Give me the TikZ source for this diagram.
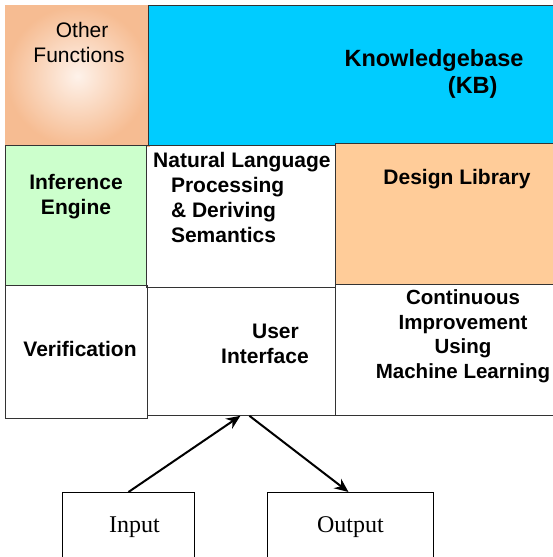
\documentclass[tikz,border=0pt]{standalone}
\usepackage{fontspec}
\setmainfont{Liberation Sans}
\newfontfamily\serifface{Liberation Serif}
\usepackage{xcolor}
\usetikzlibrary{arrows.meta,positioning,calc}
\tikzset{
  cell/.style={draw=black!80, line width=0.8pt, minimum width=#1, inner sep=0pt, anchor=north west},
  txt/.style={font=\fontsize{21}{25}\selectfont\bfseries, align=center, inner sep=0pt},
  arr/.style={-{Stealth[length=14pt,width=12pt]}, line width=2pt},
}
\definecolor{kbblue}{HTML}{00CCFF}
\definecolor{infgreen}{HTML}{CCFFCC}
\definecolor{libpeach}{HTML}{FFCC99}
\definecolor{othorange}{HTML}{F6BC92}
\definecolor{othlight}{HTML}{FEF2EA}

\begin{document}
\begin{tikzpicture}[x=1pt, y=-1pt,
  io/.style={draw=black, line width=1pt, minimum width=#1, minimum height=70pt, anchor=north west,
    font=\serifface\fontsize{24}{28}\selectfont}]
  \useasboundingbox (0,0) rectangle (553,557);
  % top row
  \node[cell=143pt, minimum height=140pt, draw=othorange, line width=2pt,
    inner color=othlight, outer color=othorange] (other) at (5,5) {};
  \node[cell=410pt, minimum height=140pt, fill=kbblue] (kb) at (148,5) {};
  % middle row
  \node[cell=141pt, minimum height=140pt, fill=infgreen] (infer) at (5,145) {};
  \node[cell=189pt, minimum height=142pt] (nlp) at (146,145) {};
  \node[cell=222pt, minimum height=141pt, fill=libpeach] (lib) at (335,143) {};
  % bottom row
  \node[cell=142pt, minimum height=133pt] (verif) at (5,285) {};
  \node[cell=188pt, minimum height=128pt] (ui) at (147,287) {};
  \node[cell=222pt, minimum height=131pt] (learn) at (335,284) {};
  % texts
  \node[txt, font=\fontsize{21}{25}\selectfont] (othertxt) at (79,42) {\hspace*{0.3em}Other\\Functions};
  \node[txt, align=left, font=\fontsize{23.5}{27}\selectfont\bfseries] (kbtxt) at (434,74)
    {Knowledgebase\\\hspace*{4.4em}(KB)};
  \node[txt] (infertxt) at (76,197) {Inference\\Engine};
  \node[txt, align=left, anchor=north west] (nlptxt) at (153,152)
    {Natural Language\\\hspace*{0.85em}Processing\\\hspace*{0.85em}\& Deriving\\\hspace*{0.85em}Semantics};
  \node[txt] (libtxt) at (457,179) {Design Library};
  \node[txt] (veriftxt) at (80,349) {Verification};
  \node[txt] (uitxt) at (265,344) {\hspace*{1em}User\\Interface};
  \node[txt, font=\fontsize{20.5}{24.5}\selectfont\bfseries] (learntxt) at (463,336)
    {Continuous\\Improvement\\Using\\Machine Learning};
  % input and output
  \node[io=132pt] (input) at (62,492) {\raisebox{6pt}{\hspace*{12pt}Input}};
  \node[io=166pt] (output) at (267,492) {\raisebox{6pt}{Output}};
  \draw[arr] (input.north) -- ([xshift=-1pt]ui.south);
  \draw[arr] ([xshift=8pt]ui.south) -- ([xshift=-2pt]output.north);
\end{tikzpicture}
\end{document}
